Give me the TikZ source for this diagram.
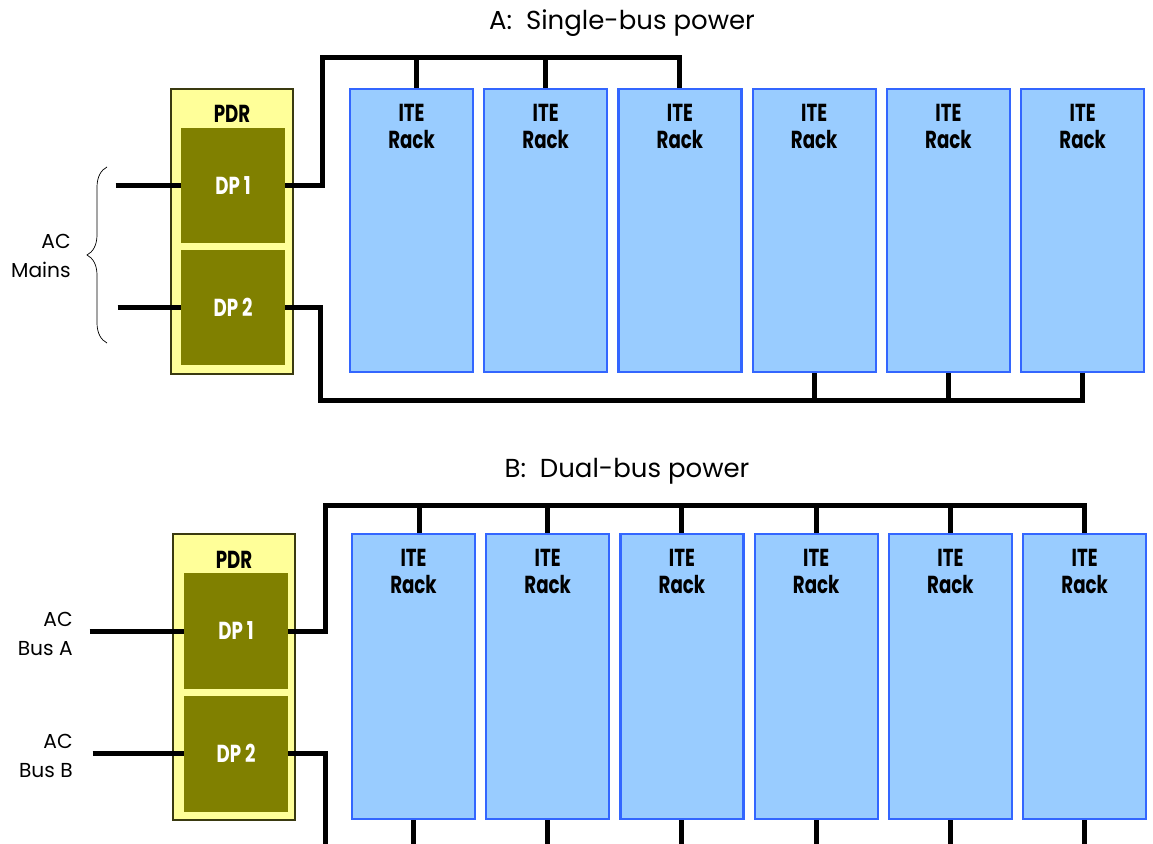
\documentclass[tikz,border=0pt]{standalone}
\usepackage{fontspec}
\setmainfont{Poppins}
\newfontfamily\boldlabel[FakeStretch=0.74]{Poppins}
\usetikzlibrary{positioning,decorations.pathreplacing}
\definecolor{rackFill}{HTML}{99CCFF}
\definecolor{rackLine}{HTML}{3366FF}
\definecolor{pdrFill}{HTML}{FFFF99}
\definecolor{pdrLine}{HTML}{3A3A10}
\definecolor{dpFill}{HTML}{808000}

\begin{document}
\begin{tikzpicture}[x=0.02cm,y=-0.02cm]
	%defines
	\tikzstyle{pdr} = [rectangle, minimum width=2.44cm, minimum height=5.7cm, fill=pdrFill, draw=pdrLine, line width=0.04cm]
	\tikzstyle{dp} = [rectangle, minimum width=2.08cm, minimum height=2.3cm, fill=dpFill, text=white, font={\boldlabel\bfseries\fontsize{14}{16}\selectfont}]
	\tikzstyle{rack} = [rectangle, minimum width=2.46cm, minimum height=5.66cm, fill=rackFill, draw=rackLine, line width=0.045cm]
	\tikzstyle{racktext} = [inner sep=0pt, align=center, font={\boldlabel\bfseries\fontsize{14}{15.5}\selectfont}]
	\tikzstyle{pdrtext} = [inner sep=0pt, font={\boldlabel\bfseries\fontsize{14}{16}\selectfont}]
	\tikzstyle{title} = [inner sep=0pt, font={\fontsize{14.8}{17}\selectfont}]
	\tikzstyle{source} = [inner sep=0pt, align=right, anchor=east, font={\fontsize{11.5}{16}\selectfont}]
	\tikzstyle{bus} = [line width=0.1cm, black]
	\tikzstyle{brace} = [decorate, decoration={brace, amplitude=0.4cm}, thin]
	\useasboundingbox (0,0) rectangle (1153,844);
	\clip (0,0) rectangle (1153,844);

	%A: single bus
	\node (titleA) [title] at (622,23) {A:\ \ Single-bus power};
	\node (pdrA) [pdr] at (232,231.5) {};
	\node (pdrAtext) [pdrtext, below=0.34cm of pdrA.north] {PDR};
	\node (dpA1) [dp] at (233,185.5) {DP 1};
	\node (dpA2) [dp, below=0.12cm of dpA1] {DP 2};
	\node (rackA1) [rack] at (411.5,230.5) {};
	\node (rackA2) [rack, right=0.18cm of rackA1] {};
	\node (rackA3) [rack, right=0.18cm of rackA2] {};
	\node (rackA4) [rack, right=0.18cm of rackA3] {};
	\node (rackA5) [rack, right=0.18cm of rackA4] {};
	\node (rackA6) [rack, right=0.18cm of rackA5] {};
	\node (rackA1text) [racktext, below=0.32cm of rackA1.north] {ITE\\Rack};
	\node (rackA2text) [racktext, below=0.32cm of rackA2.north] {ITE\\Rack};
	\node (rackA3text) [racktext, below=0.32cm of rackA3.north] {ITE\\Rack};
	\node (rackA4text) [racktext, below=0.32cm of rackA4.north] {ITE\\Rack};
	\node (rackA5text) [racktext, below=0.32cm of rackA5.north] {ITE\\Rack};
	\node (rackA6text) [racktext, below=0.32cm of rackA6.north] {ITE\\Rack};
	\coordinate [left=1.3cm of dpA1.west] (acA1);
	\coordinate [left=1.26cm of dpA2.west] (acA2);
	\coordinate (busAtop) at (322,58);
	\coordinate (busAbot) at (320,401);
	\draw [bus] (acA1) -- (dpA1.west);
	\draw [bus] (acA2) -- (dpA2.west);
	\draw [bus] (dpA1.east) -| (busAtop) -| (rackA3.north);
	\draw [bus] ([xshift=0.1cm]rackA1.north |- busAtop) -- ([xshift=0.1cm]rackA1.north);
	\draw [bus] (rackA2.north |- busAtop) -- (rackA2.north);
	\draw [bus] (dpA2.east) -| (busAbot) -| (rackA6.south);
	\draw [bus] (rackA4.south |- busAbot) -- (rackA4.south);
	\draw [bus] (rackA5.south |- busAbot) -- (rackA5.south);
	\coordinate (braceBot) at (107,343);
	\coordinate (braceTop) at (107,167);
	\draw [brace] (braceBot) -- (braceTop);
	\node (acMains) [source] at (71,256) {AC\\Mains};

	%B: dual bus
	\node (titleB) [title] at (627,471) {B:\ \ Dual-bus power};
	\node (pdrB) [pdr, minimum height=5.72cm] at (234,677) {};
	\node (pdrBtext) [pdrtext, below=0.36cm of pdrB.north] {PDR};
	\node (dpB1) [dp, minimum height=2.32cm] at (236,631) {DP 1};
	\node (dpB2) [dp, minimum height=2.32cm, below=0.12cm of dpB1] {DP 2};
	\node (rackB1) [rack, minimum height=5.7cm] at (413.5,676.5) {};
	\node (rackB2) [rack, minimum height=5.7cm, right=0.18cm of rackB1] {};
	\node (rackB3) [rack, minimum height=5.7cm, right=0.18cm of rackB2] {};
	\node (rackB4) [rack, minimum height=5.7cm, right=0.18cm of rackB3] {};
	\node (rackB5) [rack, minimum height=5.7cm, right=0.18cm of rackB4] {};
	\node (rackB6) [rack, minimum height=5.7cm, right=0.18cm of rackB5] {};
	\node (rackB1text) [racktext, below=0.32cm of rackB1.north] {ITE\\Rack};
	\node (rackB2text) [racktext, below=0.32cm of rackB2.north] {ITE\\Rack};
	\node (rackB3text) [racktext, below=0.32cm of rackB3.north] {ITE\\Rack};
	\node (rackB4text) [racktext, below=0.32cm of rackB4.north] {ITE\\Rack};
	\node (rackB5text) [racktext, below=0.32cm of rackB5.north] {ITE\\Rack};
	\node (rackB6text) [racktext, below=0.32cm of rackB6.north] {ITE\\Rack};
	\coordinate [left=1.88cm of dpB1.west] (acB1);
	\coordinate [left=1.82cm of dpB2.west] (acB2);
	\coordinate (busBtop) at (325,505);
	\coordinate (busBbot) at (325,846);
	\draw [bus] (acB1) -- (dpB1.west);
	\draw [bus] (acB2) -- (dpB2.west);
	\draw [bus] (dpB1.east) -| (busBtop) -| (rackB6.north);
	\draw [bus] ([xshift=0.12cm]rackB1.north |- busBtop) -- ([xshift=0.12cm]rackB1.north);
	\draw [bus] (rackB2.north |- busBtop) -- (rackB2.north);
	\draw [bus] (rackB3.north |- busBtop) -- (rackB3.north);
	\draw [bus] (rackB4.north |- busBtop) -- (rackB4.north);
	\draw [bus] (rackB5.north |- busBtop) -- (rackB5.north);
	\draw [bus] (dpB2.east) -| (busBbot) -| (rackB6.south);
	\draw [bus] (rackB1.south |- busBbot) -- (rackB1.south);
	\draw [bus] (rackB2.south |- busBbot) -- (rackB2.south);
	\draw [bus] (rackB3.south |- busBbot) -- (rackB3.south);
	\draw [bus] (rackB4.south |- busBbot) -- (rackB4.south);
	\draw [bus] (rackB5.south |- busBbot) -- (rackB5.south);
	\node (acBusA) [source] at (73,634) {AC\\Bus A};
	\node (acBusB) [source] at (73,756) {AC\\Bus B};
\end{tikzpicture}
\end{document}
